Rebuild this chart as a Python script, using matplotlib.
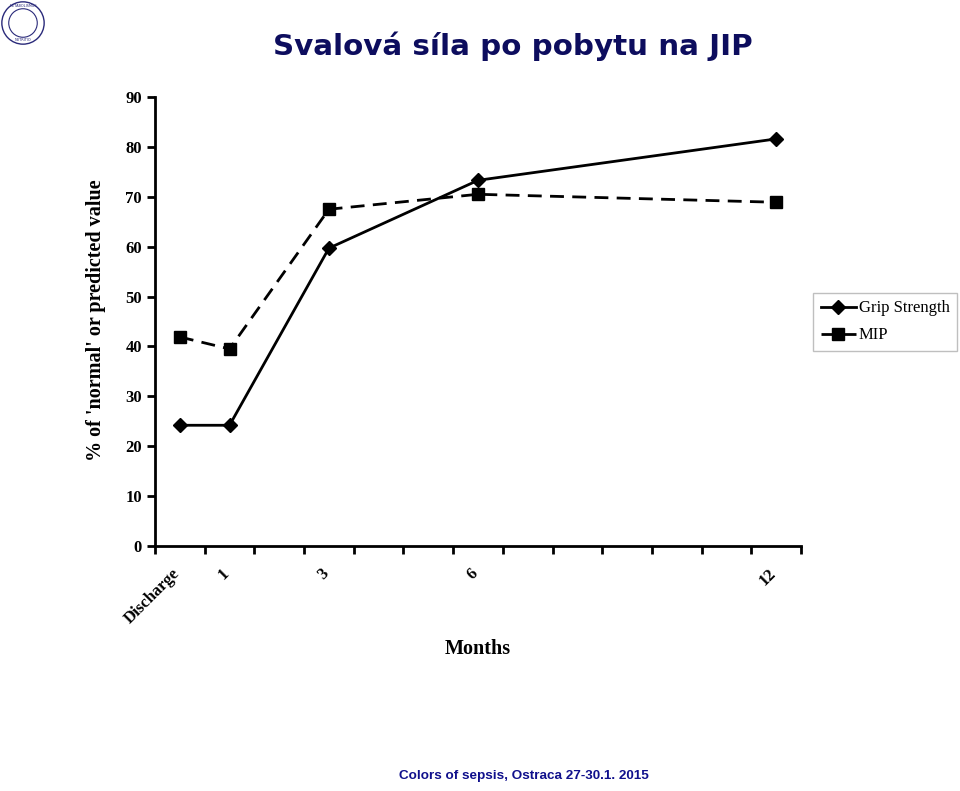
import numpy as np
import matplotlib.pyplot as plt
from matplotlib.patches import Circle

# months after ICU discharge (category axis 0..12), labels only where data exist
months = [0, 1, 3, 6, 12]
month_labels = ['Discharge', '1', '3', '6', '12']
grip_strength = [24.2, 24.2, 59.7, 73.3, 81.6]
mip = [41.9, 39.5, 67.5, 70.5, 68.9]

serif = ['Liberation Serif', 'DejaVu Serif']

fig = plt.figure(figsize=(9.6, 7.91), dpi=100)
ax = fig.add_axes([155/960, 1-546/791, 646/960, 449/791])

x = np.array(months) + 0.5
ax.plot(x, grip_strength, color='black', lw=2, marker='D', ms=7.5, label='Grip Strength')
ax.plot(x, mip, color='black', lw=2, ls=(0, (5, 3)), marker='s', ms=8.5, label='MIP')

ax.set_xlim(0, 13)
ax.set_ylim(0, 90)
ax.set_yticks(np.arange(0, 91, 10))
ax.set_xticks(np.arange(0, 14))
ax.set_xticklabels([])
# labels sit a little left of the points in the original
ax.set_xticks(x - 0.17, minor=True)
ax.set_xticklabels(month_labels, minor=True, rotation=45, ha='right',
                   rotation_mode='anchor', family=serif, fontweight='bold', fontsize=12)
ax.tick_params(axis='x', which='minor', length=0, pad=14)
ax.tick_params(axis='both', which='major', length=6, width=2, direction='out')
for lab in ax.get_yticklabels():
    lab.set_family(serif)
    lab.set_fontweight('bold')
    lab.set_fontsize(12)
for s in ['top', 'right']:
    ax.spines[s].set_visible(False)
for s in ['left', 'bottom']:
    ax.spines[s].set_linewidth(2)

ax.set_ylabel("% of 'normal' or predicted value", family=serif, fontweight='bold', fontsize=14.5)
ax.yaxis.set_label_coords(-0.076, 0.503)
ax.set_xlabel('Months', family=serif, fontweight='bold', fontsize=14.5)
ax.xaxis.set_label_coords(0.5, -0.208)

leg = fig.legend(loc='upper left', bbox_to_anchor=(813/960, 1-293/791), borderaxespad=0,
                 prop={'family': serif, 'size': 12}, frameon=True, fancybox=False,
                 handlelength=2.1, borderpad=0.45, labelspacing=0.65, handletextpad=0.2)
leg.get_frame().set_edgecolor('#b0b0b0')
leg.get_frame().set_linewidth(1)

fig.text(0.534, 1-46/791, 'Svalová síla po pobytu na JIP', ha='center', va='center',
         color='#0d0d5e', fontsize=21.2, fontweight='bold', family='DejaVu Sans')
fig.text(0.546, 1-776/791, 'Colors of sepsis, Ostraca 27-30.1. 2015', ha='center', va='center',
         color='#10108c', fontsize=9.7, fontweight='bold', family='Liberation Sans')

# small round logo at top left
lax = fig.add_axes([0, 1-46/791, 46/960, 46/791])
lax.set_xlim(-1, 1)
lax.set_ylim(-1, 1)
lax.axis('off')
lax.add_patch(Circle((0, 0), 0.92, fill=False, ec='#2a2a7a', lw=1))
lax.add_patch(Circle((0, 0), 0.62, fill=False, ec='#2a2a7a', lw=0.8))
lax.text(0, 0.75, 'METABOLISMUS', ha='center', va='center', fontsize=2.5, color='#2a2a7a')
lax.text(0, -0.75, 'NUTRITIO', ha='center', va='center', fontsize=2.5, color='#2a2a7a')

fig.savefig('out.png', dpi=100)
